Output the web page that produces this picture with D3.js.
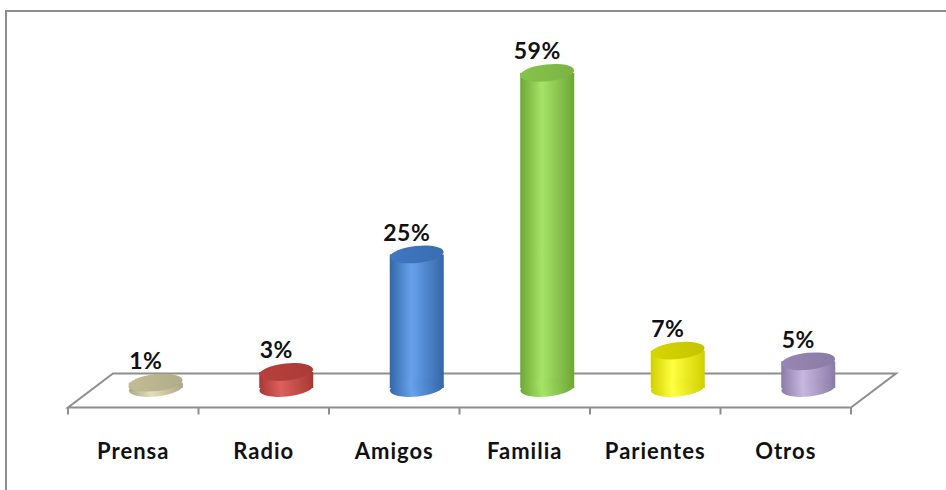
<!DOCTYPE html>
<html>
<head>
<meta charset="utf-8">
<script src="https://cdn.jsdelivr.net/npm/d3@7"></script>
<style>
  html, body { margin: 0; padding: 0; background: #fff; }
  svg { display: block; }
</style>
</head>
<body>
<svg id="chart" width="946" height="490"></svg>
<script>
// Survey: how respondents heard about it
const categories = ["Prensa", "Radio", "Amigos", "Familia", "Parientes", "Otros"];
const values = [1, 3, 25, 59, 7, 5];
const valueLabels = ["1%", "3%", "25%", "59%", "7%", "5%"];
// per-category palette: [edge, highlight, top]
const palette = [
  ["#aea882", "#e2ddbb", "#c2bc96"],
  ["#a83835", "#dc605c", "#b9403c"],
  ["#3466a8", "#66a2ec", "#3f77c2"],
  ["#6ea636", "#a6e468", "#86c44a"],
  ["#d0d000", "#ffff40", "#d6d600"],
  ["#8a7aa6", "#c8b8e0", "#9886b4"]
];

const svg = d3.select("#chart");
const W = 946, H = 490;

// outer frame (top and left edges visible)
svg.append("path")
  .attr("d", `M6,${H} L6,11 L${W},11`)
  .attr("fill", "none")
  .attr("stroke", "#8e8e8e")
  .attr("stroke-width", 2);

// floor geometry
const frontY = 407.5, frontX0 = 68, frontX1 = 851;
const depthDx = 45, depthDy = -34;

const x = d3.scaleBand()
  .domain(categories)
  .range([frontX0, frontX1])
  .paddingInner(0).paddingOuter(0);

const y = d3.scaleLinear().domain([0, 60]).range([388, 67.5]);

// floor parallelogram
svg.append("path")
  .attr("d", `M${frontX0},${frontY} L${frontX1},${frontY} L${frontX1 + depthDx},${frontY + depthDy} L${frontX0 + depthDx},${frontY + depthDy} Z`)
  .attr("fill", "#fff")
  .attr("stroke", "#8e8e8e")
  .attr("stroke-width", 2);

// category axis along the front edge of the floor
const axis = d3.axisBottom(x).tickSize(7).tickSizeOuter(7).tickFormat("");
const axisG = svg.append("g")
  .attr("transform", `translate(0,${frontY})`)
  .call(axis);
axisG.select(".domain").remove();
// ticks sit on band boundaries
axisG.selectAll(".tick").remove();
const bounds = categories.map(c => x(c)).concat([x(categories[categories.length - 1]) + x.bandwidth()]);
axisG.selectAll("line.bt").data(bounds).enter().append("line")
  .attr("class", "bt")
  .attr("x1", d => d).attr("x2", d => d)
  .attr("y1", 0).attr("y2", 7)
  .attr("stroke", "#8e8e8e").attr("stroke-width", 2);

axisG.selectAll("text.cat").data(categories).enter().append("text")
  .attr("class", "cat")
  .attr("x", d => x(d) + x.bandwidth() / 2)
  .attr("y", 51)
  .attr("text-anchor", "middle")
  .attr("font-family", "Lato, 'Open Sans', sans-serif")
  .attr("font-weight", "bold")
  .attr("font-size", 22)
  .attr("letter-spacing", 1)
  .attr("fill", "#111")
  .text(d => d);

// gradients for cylinder bodies
const defs = svg.append("defs");
palette.forEach((p, i) => {
  const g = defs.append("linearGradient").attr("id", "body" + i)
    .attr("x1", "0%").attr("x2", "100%").attr("y1", "0%").attr("y2", "0%");
  g.append("stop").attr("offset", "0%").attr("stop-color", p[0]);
  g.append("stop").attr("offset", "40%").attr("stop-color", p[1]);
  g.append("stop").attr("offset", "100%").attr("stop-color", p[0]);
  const t = defs.append("linearGradient").attr("id", "top" + i)
    .attr("x1", "0%").attr("x2", "100%").attr("y1", "0%").attr("y2", "0%");
  t.append("stop").attr("offset", "0%").attr("stop-color", p[2]);
  t.append("stop").attr("offset", "100%").attr("stop-color", d3.color(p[2]).darker(0.25));
});

const rx = 27, ry = 8.5, tilt = -6;
const data = categories.map((c, i) => ({ c, v: values[i], label: valueLabels[i], i }));

const bars = svg.append("g").selectAll("g.cyl").data(data).enter().append("g").attr("class", "cyl");

bars.each(function (d) {
  const g = d3.select(this);
  const cx = x(d.c) + x.bandwidth() / 2 + depthDx / 2;
  const yb = y(0), yt = y(d.v);
  // body
  g.append("rect")
    .attr("x", cx - rx).attr("y", yt)
    .attr("width", rx * 2).attr("height", yb - yt)
    .attr("fill", `url(#body${d.i})`);
  // rounded base
  g.append("ellipse")
    .attr("cx", cx).attr("cy", yb).attr("rx", rx).attr("ry", ry)
    .attr("transform", `rotate(${tilt},${cx},${yb})`)
    .attr("fill", `url(#body${d.i})`);
  // top cap
  g.append("ellipse")
    .attr("cx", cx).attr("cy", yt).attr("rx", rx).attr("ry", ry)
    .attr("transform", `rotate(${tilt},${cx},${yt})`)
    .attr("fill", `url(#top${d.i})`);
  // value label
  g.append("text")
    .attr("x", cx - 10)
    .attr("y", yt - ry - 5)
    .attr("text-anchor", "middle")
    .attr("font-family", "Lato, 'Open Sans', sans-serif")
    .attr("font-weight", "bold")
    .attr("font-size", 23)
    .attr("letter-spacing", 0.5)
    .attr("fill", "#111")
    .text(d.label);
});
</script>
</body>
</html>
